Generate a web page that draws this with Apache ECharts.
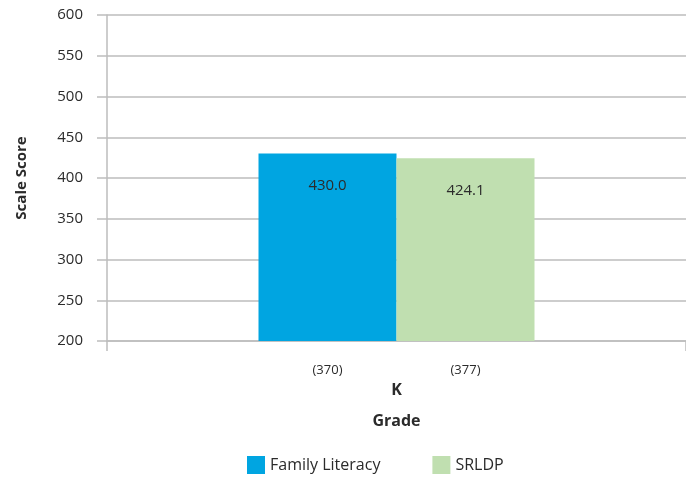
<!DOCTYPE html>
<html>
<head>
<meta charset="utf-8">
<script src="https://cdn.jsdelivr.net/npm/echarts@6/dist/echarts.min.js"></script>
<style>
  html, body { margin: 0; padding: 0; background: #fff; }
  #chart { width: 686px; height: 483px; }
</style>
</head>
<body>
<div id="chart"></div>
<script>
const categories = ["K"];
const seriesNames = ["Family Literacy", "SRLDP"];
const familyLiteracy = [430.0];
const srldp = [424.1];
const counts = ["(370)", "(377)"];
const colors = ["#00a5e1", "#c0dfb0"];
const yMin = 200, yMax = 600, yStep = 50;

const font = "Open Sans";
const gridColor = "#bdbdbd";
const textColor = "#2b2b2b";

function makeSeries(name, values, color, count) {
  return {
    name: name,
    type: "bar",
    data: values,
    barWidth: 138,
    barGap: "0%",
    itemStyle: { color: color },
    label: {
      show: true,
      position: "insideTop",
      distance: 25,
      formatter: (p) => p.value.toFixed(1),
      color: textColor,
      fontSize: 15,
      fontFamily: font,
    },
    markPoint: {
      symbol: "rect",
      symbolSize: 0,
      data: [{ coord: [0, yMin], value: count }],
      label: {
        show: true,
        formatter: count,
        offset: [0, 29],
        color: textColor,
        fontSize: 13,
        fontFamily: font,
      },
    },
  };
}

const chart = echarts.init(document.getElementById("chart"));
chart.setOption({
  animation: false,
  textStyle: { fontFamily: font },
  grid: { left: 107, right: 0, top: 15, bottom: 142 },
  legend: {
    bottom: 4,
    left: 242,
    itemWidth: 18,
    itemHeight: 18,
    itemGap: 52,
    icon: "rect",
    textStyle: { fontSize: 16, color: textColor, fontFamily: font },
    data: seriesNames,
  },
  xAxis: {
    type: "category",
    data: categories,
    name: "Grade",
    nameLocation: "middle",
    nameGap: 72,
    nameTextStyle: { fontSize: 16, fontWeight: "bold", color: textColor },
    axisLine: { lineStyle: { color: gridColor, width: 1.5 } },
    axisTick: { show: true, length: 10, lineStyle: { color: gridColor, width: 1.5 } },
    axisLabel: { margin: 41, fontSize: 16, fontWeight: "bold", color: textColor },
  },
  yAxis: {
    type: "value",
    min: yMin,
    max: yMax,
    interval: yStep,
    name: "Scale Score",
    nameLocation: "middle",
    nameGap: 78,
    nameTextStyle: { fontSize: 15, fontWeight: "bold", color: textColor },
    axisLine: { show: true, lineStyle: { color: gridColor, width: 1.5 } },
    axisTick: { show: true, length: 10, lineStyle: { color: gridColor, width: 1.5 } },
    splitLine: { lineStyle: { color: gridColor, width: 1.5 } },
    axisLabel: { margin: 24, fontSize: 15, color: textColor },
  },
  series: [
    makeSeries(seriesNames[0], familyLiteracy, colors[0], counts[0]),
    makeSeries(seriesNames[1], srldp, colors[1], counts[1]),
  ],
});
</script>
</body>
</html>
